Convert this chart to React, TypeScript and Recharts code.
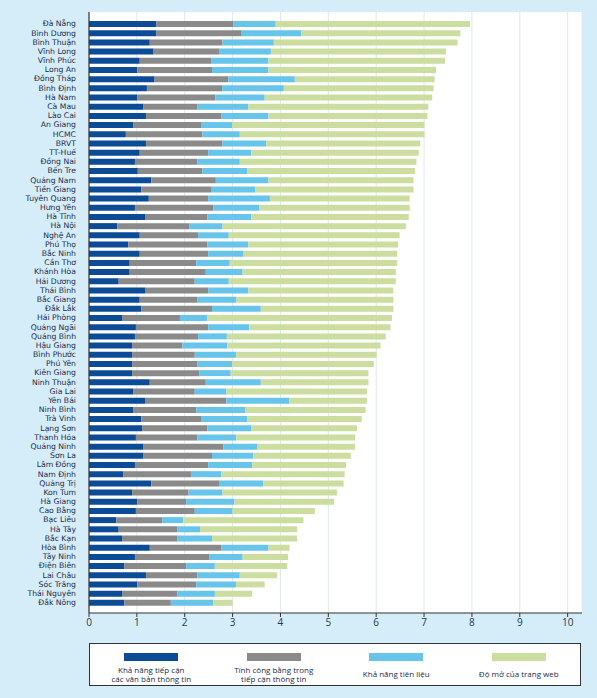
import React from 'react';
import { BarChart, Bar, XAxis, YAxis, CartesianGrid } from 'recharts';

const provinces = [
  'Đà Nẵng', 'Bình Dương', 'Bình Thuận', 'Vĩnh Long', 'Vĩnh Phúc', 'Long An', 'Đồng Tháp', 'Bình Định',
  'Hà Nam', 'Cà Mau', 'Lào Cai', 'An Giang', 'HCMC', 'BRVT', 'TT-Huế', 'Đồng Nai',
  'Bến Tre', 'Quảng Nam', 'Tiền Giang', 'Tuyên Quang', 'Hưng Yên', 'Hà Tĩnh', 'Hà Nội', 'Nghệ An',
  'Phú Thọ', 'Bắc Ninh', 'Cần Thơ', 'Khánh Hòa', 'Hải Dương', 'Thái Bình', 'Bắc Giang', 'Đắk Lắk',
  'Hải Phòng', 'Quảng Ngãi', 'Quảng Bình', 'Hậu Giang', 'Bình Phước', 'Phú Yên', 'Kiên Giang', 'Ninh Thuận',
  'Gia Lai', 'Yên Bái', 'Ninh Bình', 'Trà Vinh', 'Lạng Sơn', 'Thanh Hóa', 'Quảng Ninh', 'Sơn La',
  'Lâm Đồng', 'Nam Định', 'Quảng Trị', 'Kon Tum', 'Hà Giang', 'Cao Bằng', 'Bạc Liêu', 'Hà Tây',
  'Bắc Kạn', 'Hòa Bình', 'Tây Ninh', 'Điện Biên', 'Lai Châu', 'Sóc Trăng', 'Thái Nguyên', 'Đắk Nông',
];

// khả năng tiếp cận các văn bản thông tin
const access = [
  1.41, 1.41, 1.27, 1.35, 1.06, 1.01, 1.37, 1.21,
  1.01, 1.14, 1.19, 0.93, 0.77, 1.19, 1.06, 0.96,
  1.02, 1.30, 1.09, 1.25, 0.96, 1.17, 0.59, 1.06,
  0.82, 1.06, 0.85, 0.85, 0.62, 1.17, 1.06, 1.09,
  0.69, 0.98, 0.96, 0.90, 0.90, 0.90, 0.90, 1.27,
  0.93, 1.17, 0.93, 1.09, 1.11, 0.98, 1.14, 1.14,
  0.96, 0.72, 1.30, 0.90, 1.01, 0.98, 0.57, 0.62,
  0.69, 1.27, 0.96, 0.74, 1.19, 1.01, 0.69, 0.74,
];

// tính công bằng trong tiếp cận thông tin
const equity = [
  1.61, 1.78, 1.52, 1.38, 1.49, 1.56, 1.54, 1.57,
  1.63, 1.12, 1.57, 1.41, 1.60, 1.60, 1.43, 1.30,
  1.35, 1.35, 1.46, 1.24, 1.64, 1.30, 1.51, 1.22,
  1.65, 1.43, 1.39, 1.59, 1.59, 1.32, 1.20, 1.48,
  1.21, 1.51, 1.32, 1.05, 1.31, 1.36, 1.41, 1.17,
  1.28, 1.70, 1.31, 1.25, 1.36, 1.28, 1.67, 1.43,
  1.53, 1.41, 1.43, 1.18, 1.02, 1.23, 0.96, 1.23,
  1.16, 1.49, 1.56, 1.29, 1.07, 1.23, 1.16, 0.97,
];

// khả năng tiên liệu
const predictability = [
  0.88, 1.24, 1.07, 1.07, 1.20, 1.18, 1.39, 1.29,
  1.03, 1.07, 0.99, 0.65, 0.78, 0.91, 0.90, 0.89,
  0.94, 1.10, 0.92, 1.29, 0.96, 0.92, 0.69, 0.64,
  0.86, 0.74, 0.70, 0.77, 0.71, 0.84, 0.82, 1.02,
  0.57, 0.86, 0.60, 0.94, 0.86, 0.73, 0.65, 1.15,
  0.66, 1.32, 1.03, 0.97, 0.92, 0.82, 0.70, 0.86,
  0.92, 0.63, 0.91, 0.71, 1.01, 0.79, 0.44, 0.47,
  0.72, 0.99, 0.69, 0.60, 0.89, 0.83, 0.78, 0.89,
];

// độ mở của trang web
const openness = [
  4.06, 3.33, 3.84, 3.66, 3.69, 3.50, 2.92, 3.13,
  3.50, 3.76, 3.32, 4.02, 3.86, 3.22, 3.50, 3.69,
  3.50, 3.03, 3.31, 2.92, 3.14, 3.29, 3.83, 3.57,
  3.13, 3.21, 3.50, 3.20, 3.49, 3.03, 3.28, 2.77,
  3.86, 2.95, 3.32, 3.20, 2.94, 2.96, 2.88, 2.25,
  2.94, 1.62, 2.51, 2.39, 2.21, 2.48, 2.05, 2.04,
  1.96, 2.58, 1.68, 2.39, 2.08, 1.72, 2.51, 2.03,
  1.78, 0.44, 0.95, 1.51, 0.78, 0.60, 0.78, 0.40,
];

const xTicks = [0, 1, 2, 3, 4, 5, 6, 7, 8, 9, 10];

const seriesNames = [
  'Khả năng tiếp cận\ncác văn bản thông tin',
  'Tính công bằng trong\ntiếp cận thông tin',
  'Khả năng tiên liệu',
  'Độ mở của trang web',
];
const colors = ['#0c4b95', '#8a8a8a', '#67c4ea', '#cbdd9f'];
const keys = ['access', 'equity', 'predictability', 'openness'];

const data = provinces.map((name, i) => ({
  name,
  access: access[i],
  equity: equity[i],
  predictability: predictability[i],
  openness: openness[i],
}));

const font = '"Open Sans", Lato, sans-serif';
const labelFont = '"DejaVu Sans", "Open Sans", sans-serif';

export default function App() {
  return (
    <div
      style={{
        position: 'absolute',
        left: 0,
        top: 0,
        width: 597,
        height: 698,
        background: '#d5edf8',
        fontFamily: font,
      }}
    >
      <div style={{ position: 'absolute', left: 0, top: 0 }}>
        <BarChart
          width={597}
          height={640}
          data={data}
          layout="vertical"
          margin={{ top: 12, right: 15, bottom: 0, left: 0 }}
          barSize={6}
        >
          <CartesianGrid horizontal={false} stroke="#dde8ee" fill="#ffffff" />
          <XAxis
            type="number"
            domain={[0, 10.3]}
            ticks={xTicks}
            allowDataOverflow
            height={27}
            tick={{ fill: '#2a3550', fontSize: 10, fontFamily: font }}
            tickSize={4}
            axisLine={{ stroke: '#333', strokeWidth: 1.2 }}
            tickLine={{ stroke: '#333' }}
          />
          <YAxis
            type="category"
            dataKey="name"
            width={89}
            interval={0}
            padding={{ top: 7, bottom: 6 }}
            tick={{ fill: '#1d2a48', fontSize: 7.7, fontFamily: labelFont }}
            tickLine={false}
            tickMargin={7}
            axisLine={{ stroke: '#333', strokeWidth: 1.2 }}
          />
          {keys.map((k, i) => (
            <Bar key={k} dataKey={k} stackId="a" fill={colors[i]} isAnimationActive={false} />
          ))}
        </BarChart>
      </div>
      <div
        style={{
          position: 'absolute',
          left: 89,
          top: 643,
          width: 492,
          height: 43,
          boxSizing: 'border-box',
          border: '1.5px solid #333',
          background: '#fff',
          display: 'flex',
        }}
      >
        {seriesNames.map((s, i) => (
          <div
            key={s}
            style={{
              flex: 1,
              display: 'flex',
              flexDirection: 'column',
              alignItems: 'center',
              paddingTop: 9,
            }}
          >
            <div style={{ width: 54, height: 8, background: colors[i] }} />
            <div
              style={{
                fontSize: 8,
                lineHeight: '9px',
                color: '#1d2a48',
                textAlign: 'center',
                whiteSpace: 'pre-line',
                marginTop: s.includes('\n') ? 4 : 8,
              }}
            >
              {s}
            </div>
          </div>
        ))}
      </div>
    </div>
  );
}
